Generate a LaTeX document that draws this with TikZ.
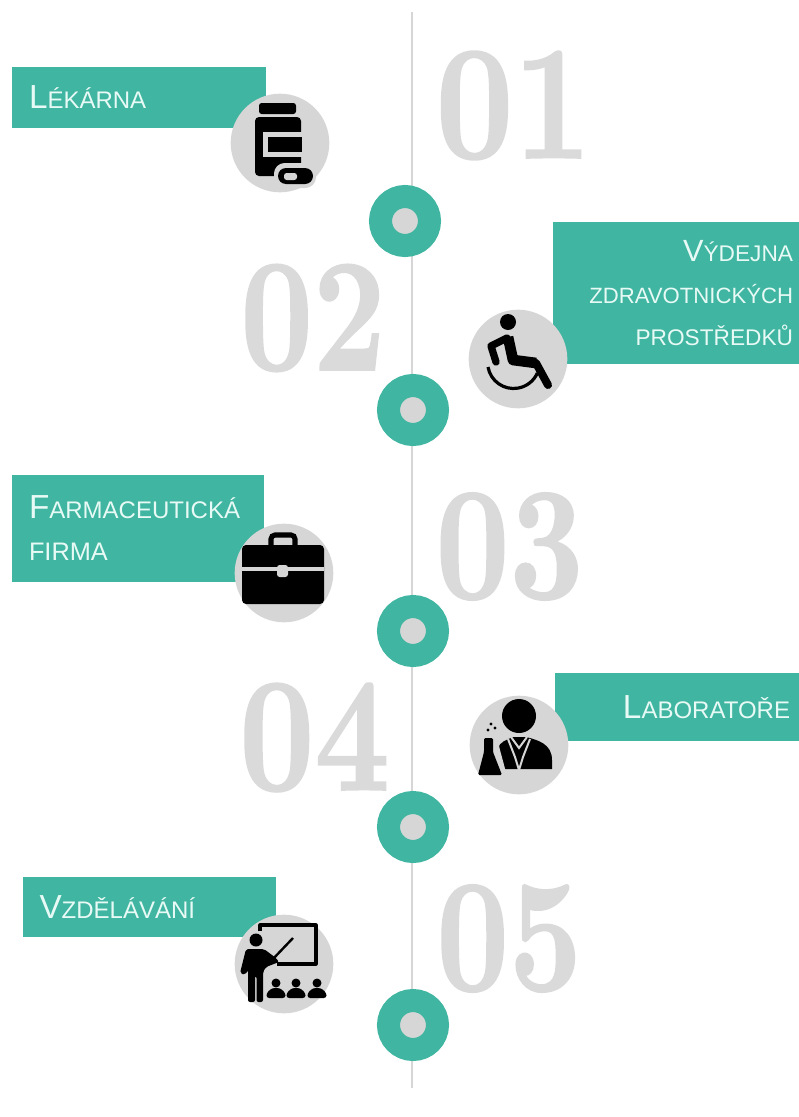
\documentclass[tikz,border=0pt]{standalone}
\usepackage{fontspec}
\setmainfont{Liberation Sans}
\newfontfamily\numfont[FakeBold=1.2]{Latin Modern Roman}
\usepackage{xcolor}
\definecolor{tealbar}{HTML}{40B5A1}
\definecolor{softgray}{HTML}{D6D6D6}
\definecolor{numgray}{HTML}{DADADA}
\definecolor{paletext}{HTML}{E8FAF5}
\newcommand{\capword}[2]{{\fontsize{25}{31.5}\selectfont #1}#2}
\newcommand{\smallword}[2]{{\fontsize{#1}{31.5}\selectfont #2}}
\newcommand{\bignum}[3]{\resizebox{#1pt}{#2pt}{\numfont\bfseries #3}}
\tikzset{
	barleft/.style={anchor=north west, fill=tealbar, text=paletext, inner xsep=12.75pt, inner ysep=0pt, align=left, outer sep=0pt,
		font=\fontsize{18}{31.5}\selectfont},
	barright/.style={anchor=north east, fill=tealbar, text=paletext, inner xsep=4.5pt, inner ysep=0pt, align=right, outer sep=0pt,
		font=\fontsize{18}{31.5}\selectfont},
	badge/.style={circle, fill=softgray, minimum size=74pt, inner sep=0pt},
	ring/.style={circle, draw=tealbar, fill=softgray, line width=17.25pt, minimum size=36.75pt, inner sep=0pt, outer sep=0pt},
	num/.style={inner sep=0pt, text=numgray}
}
\begin{document}
\begin{tikzpicture}[x=0.75pt, y=-0.75pt]
	\useasboundingbox (0,0) rectangle (799,1117);

	\coordinate (top) at (412,12);
	\coordinate (bottom) at (412,1088);
	\draw[softgray, line width=0.9pt] (top) -- (bottom);

	% big numbers
	\node[num] (n1) at (513.5,105.5) {\bignum{117}{80}{01}};
	\node[num] (n2) at (313,318) {\bignum{109}{79}{02}};
	\node[num] (n3) at (509.5,546.5) {\bignum{111}{79}{03}};
	\node[num] (n4) at (314.5,737.5) {\bignum{113}{80}{04}};
	\node[num] (n5) at (509,938.5) {\bignum{109}{79}{05}};

	% bars
	\node[barleft, text width=165pt, minimum height=45.75pt] (lekarna) at (12,67) {\capword{L}{ÉKÁRNA}};
	\node[barright, text width=175.5pt, minimum height=106.5pt] (vydejna) at (799,222) {{\fontsize{23}{31.5}\selectfont V}\smallword{17}{ÝDEJNA}\\\smallword{16.6}{ZDRAVOTNICKÝCH}\\\smallword{17}{PROSTŘEDKŮ}};
	\node[barleft, text width=163.5pt, minimum height=80.25pt] (firma) at (12,475) {\capword{F}{ARMACEUTICKÁ}\\\smallword{19}{FIRMA}};
	\node[barright, text width=169.5pt, inner xsep=6.75pt, minimum height=51pt] (lab) at (799,673) {\capword{L}{ABORATOŘE}};
	\node[barleft, text width=164.25pt, minimum height=45pt] (vzdel) at (22.5,877) {\capword{V}{ZDĚLÁVÁNÍ}};

	% gray circles
	\node[badge] (b1) at (280,143) {};
	\node[badge] (b2) at (518,359) {};
	\node[badge] (b3) at (284,573) {};
	\node[badge] (b4) at (519,745) {};
	\node[badge] (b5) at (284,964) {};

	% bottle
	\fill[rounded corners=2pt] (259,103) rectangle (296,114);
	\fill[rounded corners=3pt] (255,117) rectangle (301,176);
	\fill[softgray] (263,132) rectangle (302,157);
	\fill (268,137) rectangle (302,152);
	\fill[softgray, rounded corners=8pt] (274,163) rectangle (316,188);
	\fill[rounded corners=6pt] (278,168) rectangle (313,184);
	\fill[softgray, rounded corners=2pt] (284,173) rectangle (297,180);

	% wheelchair
	\fill (508,322) circle[radius=8];
	\draw[line width=8pt, line join=round] (508,337) -- (513,360) -- (536,363);
	\draw[line width=6pt, line cap=round, line join=round] (536,363) -- (548,385);
	\draw[line width=5.5pt, line join=round, line cap=round] (507,338) -- (491,346) -- (496,362);
	\draw[line width=2.4pt] (488,367) arc[start angle=170, end angle=24, radius=26];

	% briefcase
	\fill[rounded corners=3pt] (242,545) rectangle (324,604);
	\draw[line width=3.8pt, rounded corners=3pt] (271,546) -- (271,535) -- (295,535) -- (295,546);
	\fill[softgray] (242,567) rectangle (324,571);
	\fill[softgray, rounded corners=2pt] (277,565) rectangle (288,577);

	% scientist
	\fill (519,716) circle[radius=17];
	\fill (498,769) -- (498,748) .. controls (500,742) and (506,740) .. (513,737) -- (526,737) .. controls (538,740) and (552,744) .. (552,760) -- (552,769) -- cycle;
	\draw[softgray, line width=1.5pt] (508,739) -- (515,757) -- (519,770) (530,739) -- (523,757) -- (519,770);
	\draw[softgray, line width=1.5pt] (511,737) -- (519,748) -- (527,737);
	\fill[softgray] (488,737) -- (497,737) -- (500,750) -- (507,776) -- (488,776) -- cycle;
	\fill[rounded corners=1pt] (484,738) -- (493,738) -- (493,752) -- (502,775) -- (478,775) -- (484,752) -- cycle;
	\foreach \bx/\by in {491/724, 488/730, 495/728}
		\fill (\bx,\by) circle[radius=1.6];

	% teacher
	\draw[line width=2.4pt, line join=round] (260,931) -- (260,925) -- (316,925) -- (316,964) -- (277,964);
	\draw[line width=1.8pt] (272,960) -- (293,938);
	\fill (256,940) circle[radius=6.5];
	\fill[rounded corners=1.5pt] (246,949) -- (264,949) -- (276,958) -- (279,962) -- (266,967) -- (263,972) -- (263,1002) -- (256.5,1002) -- (256.5,976) -- (255,976) -- (255,1002) -- (248,1002) -- (248,970) -- (245,975) -- (240,973) -- cycle;
	\foreach \sx in {276,296,317} {
		\fill (\sx,983) circle[radius=4.5];
		\fill[rounded corners=2pt] (\sx-9.5,998) -- (\sx-9.5,993) -- (\sx-4,988) -- (\sx+4,988) -- (\sx+9.5,993) -- (\sx+9.5,998) -- cycle;
	}

	% rings on the line
	\node[ring] (r1) at (405,221) {};
	\node[ring] (r2) at (413,410) {};
	\node[ring] (r3) at (413,631) {};
	\node[ring] (r4) at (413,827) {};
	\node[ring] (r5) at (413,1025) {};
\end{tikzpicture}
\end{document}
